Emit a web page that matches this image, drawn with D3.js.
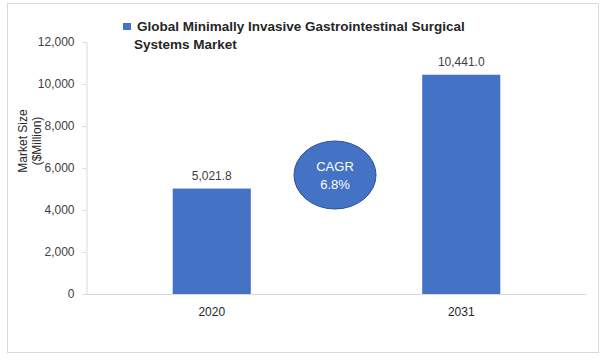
<!DOCTYPE html>
<html>
<head>
<meta charset="utf-8">
<script src="https://cdn.jsdelivr.net/npm/d3@7"></script>
<style>
  body { margin: 0; background: #fff; }
  text { font-family: "Liberation Sans", Arial, sans-serif; }
</style>
</head>
<body>
<script>
var w = 609;
var h = 361;

var years = ["2020", "2031"];
var marketSize = [5021.8, 10441.0];
var yTicks = [0, 2000, 4000, 6000, 8000, 10000, 12000];
var seriesName = ["Global Minimally Invasive Gastrointestinal Surgical", "Systems Market"];
var axisTitle = ["Market Size", "($Million)"];
var cagrText = ["CAGR", "6.8%"];

var barColor = "#4472C4";

var svg = d3.select("body").append("svg")
    .attr("width", w)
    .attr("height", h);

// chart border
svg.append("rect")
    .attr("x", 7.5).attr("y", 3.5)
    .attr("width", 591).attr("height", 349)
    .attr("fill", "#fff")
    .attr("stroke", "#d9d9d9");

var x = d3.scaleBand()
    .domain(years)
    .range([87, 586])
    .paddingInner(0.687)
    .paddingOuter(0.3435);

var y = d3.scaleLinear()
    .domain([0, 12000])
    .range([294, 42]);

// y axis
var yAxis = svg.append("g")
    .attr("transform", "translate(86.5,0)")
    .call(d3.axisLeft(y).tickValues(yTicks).tickSize(4).tickSizeOuter(0).tickPadding(8)
        .tickFormat(d3.format(",")));
yAxis.select(".domain").attr("stroke", "#d9d9d9");
yAxis.selectAll(".tick line").attr("stroke", "#d9d9d9");
yAxis.selectAll(".tick text")
    .attr("fill", "#404040")
    .style("font-size", "12px");

// baseline
svg.append("line")
    .attr("x1", 86).attr("x2", 586)
    .attr("y1", 294.5).attr("y2", 294.5)
    .attr("stroke", "#d9d9d9");

// bars
svg.selectAll("rect.bar")
    .data(marketSize)
    .enter()
    .append("rect")
    .attr("class", "bar")
    .attr("x", function(d, i){ return x(years[i]); })
    .attr("y", function(d){ return y(d); })
    .attr("width", x.bandwidth())
    .attr("height", function(d){ return y(0) - y(d); })
    .attr("fill", barColor);

// value labels
svg.selectAll("text.val")
    .data(marketSize)
    .enter()
    .append("text")
    .attr("class", "val")
    .attr("x", function(d, i){ return x(years[i]) + x.bandwidth() / 2; })
    .attr("y", function(d){ return y(d) - 9; })
    .attr("text-anchor", "middle")
    .attr("fill", "#404040")
    .style("font-size", "12px")
    .text(function(d){ return d3.format(",.1f")(d); });

// category labels
svg.selectAll("text.cat")
    .data(years)
    .enter()
    .append("text")
    .attr("class", "cat")
    .attr("x", function(d){ return x(d) + x.bandwidth() / 2; })
    .attr("y", 316)
    .attr("text-anchor", "middle")
    .attr("fill", "#262626")
    .style("font-size", "12px")
    .text(function(d){ return d; });

// axis title
var title = svg.append("text")
    .attr("transform", "translate(23,141) rotate(-90)")
    .attr("text-anchor", "middle")
    .attr("fill", "#262626")
    .style("font-size", "12px");
title.selectAll("tspan")
    .data(axisTitle)
    .enter()
    .append("tspan")
    .attr("x", 0)
    .attr("dy", function(d, i){ return i === 0 ? 4 : 14; })
    .text(function(d){ return d; });

// legend
svg.append("rect")
    .attr("x", 123).attr("y", 23)
    .attr("width", 8).attr("height", 7)
    .attr("fill", barColor);
svg.selectAll("text.legend")
    .data(seriesName)
    .enter()
    .append("text")
    .attr("class", "legend")
    .attr("x", function(d, i){ return i === 0 ? 137 : 134; })
    .attr("y", function(d, i){ return 31 + i * 18; })
    .attr("fill", "#262626")
    .style("font-size", "13.5px")
    .style("font-weight", "bold")
    .text(function(d){ return d; });

// CAGR bubble
svg.append("ellipse")
    .attr("cx", 335).attr("cy", 175)
    .attr("rx", 41).attr("ry", 34)
    .attr("fill", barColor)
    .attr("stroke", "#2F528F");
svg.selectAll("text.cagr")
    .data(cagrText)
    .enter()
    .append("text")
    .attr("class", "cagr")
    .attr("x", 335)
    .attr("y", function(d, i){ return 171 + i * 18; })
    .attr("text-anchor", "middle")
    .attr("fill", "#fff")
    .style("font-size", "13px")
    .text(function(d){ return d; });
</script>
</body>
</html>
